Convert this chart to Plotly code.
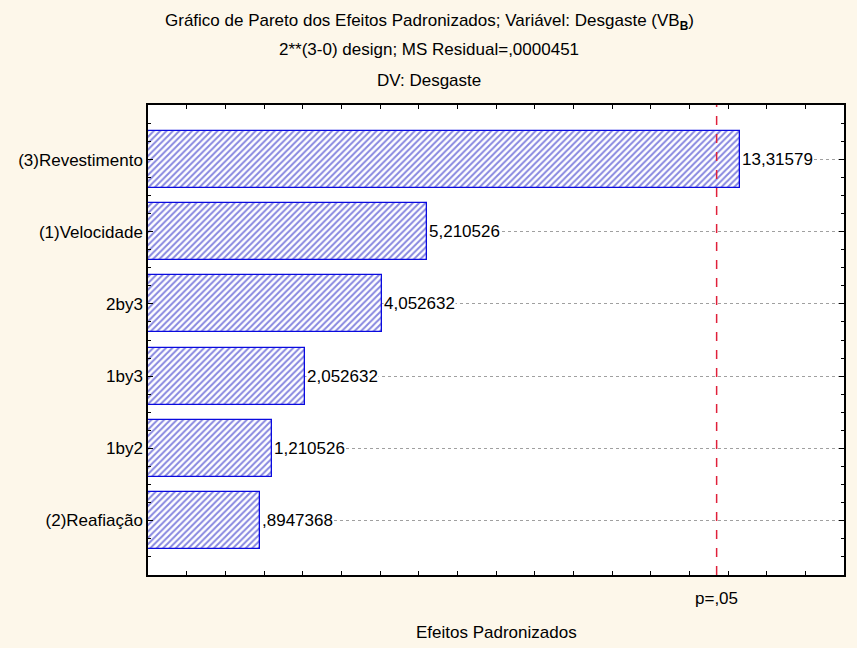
import plotly.graph_objects as go

categories = ["(3)Revestimento", "(1)Velocidade", "2by3", "1by3", "1by2", "(2)Reafiação"]
effects = [13.31579, 5.210526, 4.052632, 2.052632, 1.210526, 0.8947368]
labels = ["13,31579", "5,210526", "4,052632", "2,052632", "1,210526", ",8947368"]
p_crit = 12.706
p_label = "p=,05"
x_min, x_max = -2.0, 16.0

FONT = "Liberation Sans, Arial, sans-serif"
FS = 17
BG = "#fdf7ea"

ypos = list(range(len(categories)))

fig = go.Figure()
fig.add_trace(go.Bar(
    y=ypos,
    x=[v - x_min for v in effects],
    base=[x_min] * len(effects),
    orientation="h",
    width=0.79,
    marker=dict(
        color="white",
        line=dict(color="#0a0ae0", width=1.3),
        pattern=dict(shape="/", fgcolor="#1010c0", bgcolor="white", size=4.5, solidity=0.45),
    ),
    hoverinfo="skip",
    showlegend=False,
))

for yi, v, t in zip(ypos, effects, labels):
    fig.add_annotation(x=v, y=yi, text=t, showarrow=False, xanchor="left", yanchor="middle",
                       xshift=1, bgcolor="white", borderpad=0,
                       font=dict(family=FONT, size=FS, color="black"))

fig.add_shape(type="line", x0=p_crit, x1=p_crit, y0=0, y1=1, yref="paper",
              line=dict(color="#e0203a", width=1.5, dash="dash"), layer="above")

fig.add_annotation(x=p_crit, y=0, yref="paper", yshift=-23, text=p_label, showarrow=False,
                   xanchor="center", yanchor="middle", font=dict(family=FONT, size=FS, color="black"))

titles = [
    "Gráfico de Pareto dos Efeitos Padronizados; Variável: Desgaste (VB<sub><b>B</b></sub>)",
    "2**(3-0) design; MS Residual=,0000451",
    "DV: Desgaste",
]
title_y = [22, 50, 80]
for t, py in zip(titles, title_y):
    fig.add_annotation(x=(430 - 148) / (846 - 148), xref="paper", y=1 + (105 - py) / 470, yref="paper",
                       text=t, showarrow=False, xanchor="center", yanchor="middle",
                       font=dict(family=FONT, size=FS, color="black"))

fig.add_annotation(x=0.5, xref="paper", y=-(632 - 575) / 470, yref="paper", text="Efeitos Padronizados",
                   showarrow=False, xanchor="center", yanchor="middle",
                   font=dict(family=FONT, size=FS, color="black"))

fig.update_layout(
    width=857, height=648,
    margin=dict(l=148, r=11, t=105, b=73),
    paper_bgcolor=BG,
    plot_bgcolor="white",
    font=dict(family=FONT, size=FS, color="black"),
    bargap=0,
)
fig.update_xaxes(
    range=[x_min, x_max], showticklabels=False, ticks="inside", ticklen=4, tick0=0, dtick=1,
    tickcolor="black", showgrid=False, zeroline=False, showline=True, linecolor="black",
    linewidth=1.5, mirror="allticks",
)
fig.update_yaxes(
    range=[len(categories) - 0.24, -0.76], tickvals=ypos, ticktext=categories,
    ticks="inside", ticklen=5, tickcolor="black", showline=True, linecolor="black", linewidth=1.5,
    mirror="allticks", showgrid=True, gridcolor="#a0a0a0", griddash="dot", gridwidth=1,
    zeroline=False, tickfont=dict(family=FONT, size=FS, color="black"), ticklabelstandoff=0,
    minor=dict(ticks="inside", ticklen=3, tick0=0, dtick=0.25, tickcolor="black", showgrid=False),
)

fig.write_html("out.html")
